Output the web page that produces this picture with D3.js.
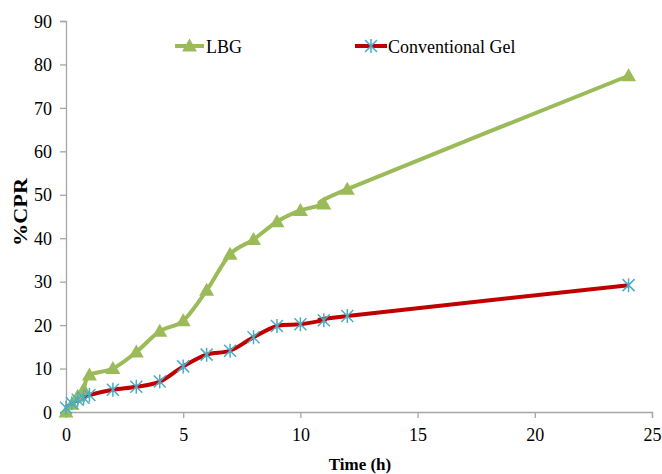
<!DOCTYPE html>
<html>
<head>
<meta charset="utf-8">
<script src="https://cdn.jsdelivr.net/npm/d3@7"></script>
<style>
  html, body { margin: 0; padding: 0; background: #fff; }
  svg text { font-family: "Liberation Serif", "Times New Roman", Times, serif; fill: #000; }
</style>
</head>
<body>
<svg id="chart" width="662" height="474" font-family="Liberation Serif, Times New Roman, serif"></svg>
<script>
// ---- data ----
const timeHours = [0, 0.25, 0.5, 0.75, 1, 2, 3, 4, 5, 6, 7, 8, 9, 10, 11, 12, 24];
const lbgValues = [0, 1.8, 3.6, 5.2, 8.5, 10.0, 13.8, 18.6, 21.0, 28.0, 36.3, 39.7, 43.8, 46.4, 47.9, 51.3, 77.4];
const convValues = [1.0, 2.0, 2.8, 3.3, 3.9, 5.1, 5.8, 7.0, 10.5, 13.2, 14.1, 17.2, 19.8, 20.2, 21.1, 22.1, 29.2];
const xTicks = [0, 5, 10, 15, 20, 25];
const yTicks = [0, 10, 20, 30, 40, 50, 60, 70, 80, 90];
const seriesNames = ["LBG", "Conventional Gel"];

const green = "#9BBB59", red = "#C00000", blue = "#4BACC6", axisGray = "#A6A6A6";
const FONT = "Liberation Serif, Times New Roman, serif";

const svg = d3.select("#chart");
const x = d3.scaleLinear().domain([0, 25]).range([66, 652]);
const y = d3.scaleLinear().domain([0, 90]).range([412, 21]);

// axes
const xAxis = svg.append("g").attr("transform", `translate(0,${y(0)})`)
  .call(d3.axisBottom(x).tickValues(xTicks).tickSize(6).tickPadding(10).tickFormat(d3.format("d")));
const yAxis = svg.append("g").attr("transform", `translate(${x(0)},0)`)
  .call(d3.axisLeft(y).tickValues(yTicks).tickSize(6).tickPadding(8).tickFormat(d3.format("d")));
[xAxis, yAxis].forEach(g => {
  g.attr("font-family", FONT).attr("font-size", 18);
  g.select(".domain").attr("stroke", axisGray).attr("stroke-width", 1.3);
  g.selectAll(".tick line").attr("stroke", axisGray).attr("stroke-width", 1.3);
  g.selectAll(".tick text").attr("font-family", FONT).style("font-family", FONT)
    .style("font-size", "18px").attr("fill", "#000");
});
yAxis.selectAll(".tick text").attr("dy", "0.34em");
xAxis.selectAll(".tick text").attr("dy", "0.72em");

// axis titles
svg.append("text").attr("x", 360).attr("y", 470).attr("text-anchor", "middle")
  .style("font-weight", "bold").style("font-size", "17px").text("Time (h)");
svg.append("text").attr("transform", "translate(27,212) rotate(-90)").attr("text-anchor", "middle")
  .style("font-weight", "bold").style("font-size", "18px")
  .attr("textLength", 68).attr("lengthAdjust", "spacingAndGlyphs").text("%CPR");

const curve = d3.curveCardinal.tension(0);
const lbgData = timeHours.map((t, i) => [t, lbgValues[i]]);
const convData = timeHours.map((t, i) => [t, convValues[i]]);
const line = d3.line().x(d => x(d[0])).y(d => y(d[1])).curve(curve);

svg.append("path").datum(lbgData).attr("d", line).attr("fill", "none")
  .attr("stroke", green).attr("stroke-width", 4).attr("stroke-linejoin", "round");
svg.append("path").datum(convData).attr("d", line).attr("fill", "none")
  .attr("stroke", red).attr("stroke-width", 4).attr("stroke-linejoin", "round");

// markers
function triangle(g, cx, cy) {
  g.append("path").attr("d", `M${cx},${cy-7.5}L${cx+7.5},${cy+5.5}L${cx-7.5},${cy+5.5}Z`).attr("fill", green);
}
function star(g, cx, cy) {
  const r = 7, s = 6;
  g.append("path").attr("d",
    `M${cx},${cy-r}L${cx},${cy+r}M${cx-s},${cy-s}L${cx+s},${cy+s}M${cx-s},${cy+s}L${cx+s},${cy-s}`)
    .attr("stroke", blue).attr("stroke-width", 1.5).attr("fill", "none");
}
const markers = svg.append("g");
lbgData.forEach(d => triangle(markers, x(d[0]), y(d[1])));
convData.forEach(d => star(markers, x(d[0]), y(d[1])));

// legend
const leg = svg.append("g");
leg.append("line").attr("x1", 175).attr("x2", 204).attr("y1", 46).attr("y2", 46).attr("stroke", green).attr("stroke-width", 4);
triangle(leg, 189.5, 46);
leg.append("text").attr("x", 206).attr("y", 52.5).style("font-size", "18px").text(seriesNames[0]);
leg.append("line").attr("x1", 355).attr("x2", 387).attr("y1", 46).attr("y2", 46).attr("stroke", red).attr("stroke-width", 4);
star(leg, 371, 46);
leg.append("text").attr("x", 388).attr("y", 52.5).style("font-size", "18px").text(seriesNames[1]);
</script>
</body>
</html>
